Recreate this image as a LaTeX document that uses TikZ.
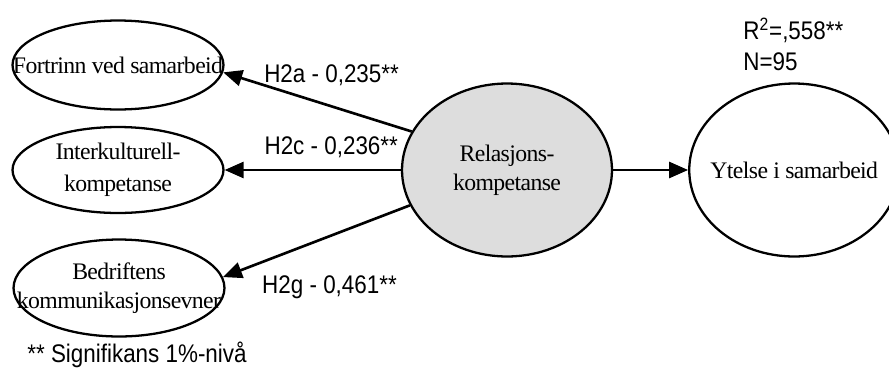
\documentclass[tikz,border=0pt]{standalone}
\usepackage{fontspec}
\setmainfont{Liberation Serif}[LetterSpace=-2.5]
\newfontfamily\lblfont{Liberation Sans}[FakeStretch=0.88]
\usetikzlibrary{arrows.meta,positioning,shapes.geometric}
\newcommand{\nw}[1]{\makebox[0pt]{#1}}

\begin{document}
\begin{tikzpicture}[
    x=0.02cm,
    y=-0.02cm,
    node distance=1.5cm,
    latent/.style={
        ellipse,
        draw,
        line width=1.3pt,
        inner sep=0pt,
        align=center,
        minimum width=4.22cm,
        minimum height=1.78cm,
        font=\fontsize{13.5}{16.5}\selectfont
    },
    core/.style={
        latent,
        fill=gray!27,
        minimum width=4.2cm,
        minimum height=3.46cm
    },
    effect/.style={
        draw,
        -{Triangle[length=0.38cm,width=0.32cm]},
        line width=1.5pt
    },
    coef/.style={
        font=\lblfont\fontsize{14.5}{17.5}\selectfont
    }
]
    \useasboundingbox (0,0) rectangle (889,376);

    % --- Left: outcome constructs ---
    \node [latent] (fortrinn) at (118,65) {\nw{Fortrinn ved samarbeid}};
    \node [latent, minimum height=1.72cm] (inter) at (118,170) {\nw{Interkulturell-}\\[2pt]\nw{kompetanse}};
    \node [latent, minimum height=1.94cm] (bedrift) at (119,288) {\nw{Bedriftens}\\\nw{kommunikasjonsevner}};

    % --- Middle and right ---
    \node [core] (relasjon) at (507,170) {\nw{Relasjons-}\\\nw{kompetanse}};
    \node [core, fill=none, right=of relasjon] (ytelse) {\nw{Ytelse i samarbeid}};

    % --- Paths with coefficients ---
    \path [effect] (relasjon.158) -- node[coef, pos=0.425, yshift=0.63cm] {H2a - 0,235**} (fortrinn.-4);
    \path [effect] (relasjon) -- node[coef, pos=0.395, yshift=0.46cm] {H2c - 0,236**} (inter);
    \path [effect] (relasjon.200) -- node[coef, pos=0.43, yshift=-1.03cm] {H2g - 0,461**} (bedrift.6);
    \path [effect] (relasjon) -- (ytelse);

    % --- Fit and note ---
    \node [coef, anchor=west, align=left, inner sep=0pt] (fit) at (743,44) {R\textsuperscript{2}=,558**\\N=95};
    \node [coef, anchor=west, inner sep=0pt] (note) at (27,355) {** Signifikans 1\%-nivå};

\end{tikzpicture}
\end{document}
